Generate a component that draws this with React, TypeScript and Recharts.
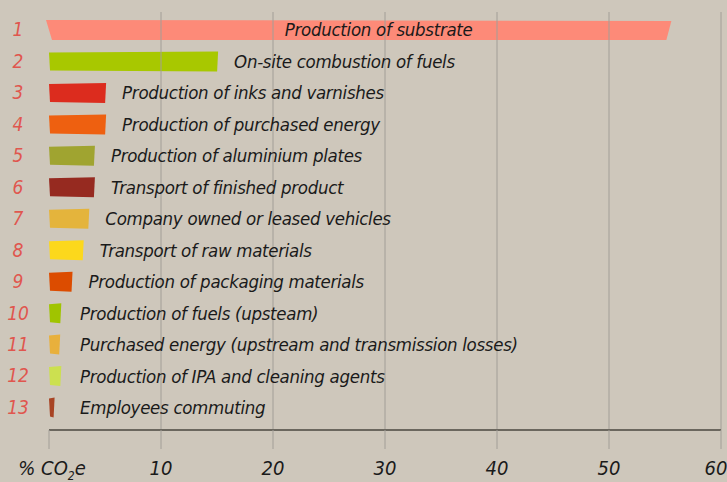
import React from "react";
import { BarChart, Bar, XAxis, YAxis, Cell, LabelList, ReferenceLine } from "recharts";

const categories = [
  "Production of substrate",
  "On-site combustion of fuels",
  "Production of inks and varnishes",
  "Production of purchased energy",
  "Production of aluminium plates",
  "Transport of finished product",
  "Company owned or leased vehicles",
  "Transport of raw materials",
  "Production of packaging materials",
  "Production of fuels (upsteam)",
  "Purchased energy (upstream and transmission losses)",
  "Production of IPA and cleaning agents",
  "Employees commuting",
];
const rowNumbers = ["1", "2", "3", "4", "5", "6", "7", "8", "9", "10", "11", "12", "13"];
const values = [55.3, 15.1, 5.1, 5.1, 4.1, 4.1, 3.6, 3.1, 2.1, 1.1, 1.0, 1.1, 0.5];
const xTicks = [0, 10, 20, 30, 40, 50, 60];
const gridValues = [10, 20, 30, 40, 50, 60];

const palette = [
  "#fd8a78", "#a8c800", "#dc2c1e", "#ee6010", "#a0a430", "#962a20", "#e4b43c",
  "#fcd81c", "#dc4c00", "#a0c400", "#e8b03c", "#cce050", "#a84424",
];

const data = categories.map((c, i) => ({ id: rowNumbers[i], name: c, value: values[i] }));

const FONT = "'Liberation Sans Narrow', 'DejaVu Sans Condensed', 'Open Sans', sans-serif";

const BarShape = (props: any) => {
  const { x, y, width, height, fill, index } = props;
  if (index === 0) {
    const d = `M${x - 3},${y} L${x + width + 3},${y + 1} L${x + width - 2},${y + height} L${x + 3},${y + height} Z`;
    return <path d={d} fill={fill} />;
  }
  const d = `M${x},${y + 1} L${x + width},${y} L${x + width - 1},${y + height} L${x + 1},${y + height - 1} Z`;
  return <path d={d} fill={fill} />;
};

const RowLabel = (props: any) => {
  const { x, y, width, height, index, value } = props;
  const cy = y + height / 2;
  if (index === 0) {
    return (
      <text x={x + width / 2 + 20} y={cy} dy="0.35em" textAnchor="middle" fill="#1a1a1a"
        fontFamily={FONT} fontStyle="italic" fontSize={18.5} letterSpacing={-0.3}>{value}</text>
    );
  }
  const lx = Math.max(x + width + 16, 80);
  return (
    <text x={lx} y={cy} dy="0.35em" textAnchor="start" fill="#1a1a1a"
      fontFamily={FONT} fontStyle="italic" fontSize={18.5} letterSpacing={-0.3}>{value}</text>
  );
};

const YTick = (props: any) => {
  const { y, payload } = props;
  return (
    <text x={18} y={y} dy="0.35em" textAnchor="middle" fill="#e0564e"
      fontFamily={FONT} fontStyle="italic" fontSize={19}>{payload.value}</text>
  );
};

const XTick = (props: any) => {
  const { x, y, payload } = props;
  if (payload.value === 0) {
    return (
      <text x={x + 3} y={y + 24} textAnchor="middle" fill="#1a1a1a" fontFamily={FONT} fontStyle="italic" fontSize={20}>
        % CO<tspan fontSize={12} dy={5}>2</tspan><tspan dy={-5}>e</tspan>
      </text>
    );
  }
  const shift = payload.value === 60 ? -5 : 0;
  return (
    <text x={x + shift} y={y + 24} textAnchor="middle" fill="#1a1a1a" fontFamily={FONT} fontStyle="italic" fontSize={20}>
      {payload.value}
    </text>
  );
};

export default function App() {
  return (
    <div style={{ position: "absolute", left: 0, top: 0, width: 727, height: 482, background: "#cec7bb" }}>
      <BarChart width={727} height={482} data={data} layout="vertical"
        margin={{ top: 12, right: 6, bottom: 0, left: 0 }} barCategoryGap={0}>
        <XAxis type="number" domain={[0, 60]} ticks={xTicks} interval={0} height={52}
          axisLine={{ stroke: "#6b675e", strokeWidth: 2 }} tickLine={{ stroke: "#a29e97" }} tickSize={19}
          tick={<XTick />} />
        <YAxis type="category" dataKey="id" width={49} axisLine={false} tickLine={false}
          tick={<YTick />} padding={{ top: 2, bottom: 7 }} />
        {gridValues.map((g) => (
          <ReferenceLine key={g} x={g} stroke="#a29e97" strokeWidth={1} />
        ))}
        <Bar dataKey="value" barSize={20} isAnimationActive={false} shape={<BarShape />}>
          {data.map((d, i) => (
            <Cell key={d.id} fill={palette[i]} />
          ))}
          <LabelList dataKey="name" content={<RowLabel />} />
        </Bar>
      </BarChart>
    </div>
  );
}
